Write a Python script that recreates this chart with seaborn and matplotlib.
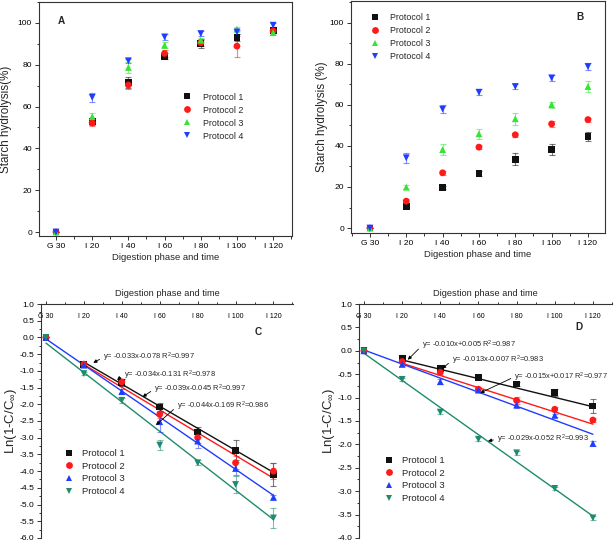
import numpy as np
import pandas as pd
import matplotlib
matplotlib.use("Agg")
import matplotlib.pyplot as plt
import seaborn as sns
from matplotlib.ticker import MultipleLocator, FormatStrFormatter

stages = ["G 30", "I 20", "I 40", "I 60", "I 80", "I 100", "I 120"]
minutes = [0, 20, 40, 60, 80, 100, 120]
protocols = ["Protocol 1", "Protocol 2", "Protocol 3", "Protocol 4"]

# A: starch hydrolysis (%), protocols 1-4
a_mean = [[0, 52.8, 71.4, 84.1, 90.1, 93.0, 96.5],
          [0, 52.3, 70.3, 85.4, 90.5, 88.9, 96.2],
          [0, 55.2, 78.7, 89.3, 91.7, 97.0, 95.4],
          [0, 64.4, 81.9, 93.3, 94.9, 95.7, 98.9]]
a_err = [[0, 1.5, 2.5, 1.5, 2.0, 1.5, 1.0],
         [0, 1.5, 2.0, 1.5, 1.5, 5.0, 1.0],
         [0, 1.5, 2.5, 1.5, 1.0, 1.0, 1.0],
         [0, 2.0, 1.0, 1.5, 1.0, 1.0, 1.0]]

# B: starch hydrolysis (%)
b_mean = [[0, 10.5, 19.9, 26.4, 33.5, 38.2, 44.6],
          [0, 13.1, 26.9, 39.4, 45.4, 50.7, 52.8],
          [0, 19.9, 38.2, 45.9, 53.2, 60.1, 68.9],
          [0, 34.2, 57.9, 66.1, 68.9, 73.1, 78.6]]
b_err = [[0, 0.8, 0.8, 1.2, 2.8, 2.5, 2.2],
         [0, 1.0, 1.0, 1.0, 1.0, 1.5, 1.0],
         [0, 1.0, 2.5, 2.5, 3.0, 1.5, 2.5],
         [0, 2.5, 2.0, 1.5, 1.2, 1.5, 1.5]]

# C: Ln(1-C/Cinf)
c_mean = [[0, -0.80, -1.35, -2.08, -2.83, -3.38, -4.10],
          [0, -0.80, -1.33, -2.30, -3.00, -3.75, -4.00],
          [0, -0.83, -1.62, -2.52, -3.10, -3.92, -4.78],
          [0, -1.08, -1.88, -3.22, -3.75, -4.40, -5.40]]
c_err = [[0, 0.05, 0.10, 0.12, 0.15, 0.30, 0.35],
         [0, 0.05, 0.08, 0.10, 0.15, 0.20, 0.25],
         [0, 0.05, 0.08, 0.30, 0.20, 0.20, 0.08],
         [0, 0.05, 0.08, 0.15, 0.08, 0.25, 0.30]]
c_slope = [-0.033, -0.034, -0.039, -0.044]
c_icpt = [-0.078, -0.131, -0.045, -0.169]
c_r2 = [0.997, 0.978, 0.997, 0.986]
c_start = [1, 1, 0, 0]

# D: Ln(1-C/Cinf)
d_mean = [[0, -0.16, -0.37, -0.57, -0.71, -0.89, -1.18],
          [0, -0.23, -0.46, -0.82, -1.06, -1.25, -1.48],
          [0, -0.29, -0.66, -0.84, -1.16, -1.38, -1.98],
          [0, -0.61, -1.31, -1.89, -2.18, -2.94, -3.57]]
d_err = [[0, 0.06, 0.05, 0.06, 0.04, 0.08, 0.15],
         [0, 0.04, 0.05, 0.05, 0.08, 0.05, 0.04],
         [0, 0.04, 0.06, 0.04, 0.06, 0.04, 0.05],
         [0, 0.03, 0.05, 0.04, 0.04, 0.04, 0.05]]
d_slope = [-0.010, -0.013, -0.015, -0.029]
d_icpt = [0.005, -0.007, 0.017, -0.052]
d_r2 = [0.987, 0.983, 0.977, 0.993]
d_start = [1, 1, 0, 0]

sns.set_style("ticks")
plt.rcParams["font.family"] = ["Liberation Sans", "DejaVu Sans"]
plt.rcParams["mathtext.fontset"] = "custom"
plt.rcParams["mathtext.rm"] = "Liberation Sans"
plt.rcParams["mathtext.it"] = "Liberation Sans:italic"

cols_ab = ["#111111", "#ff1a1a", "#33e633", "#1f3cff"]
cols_cd = ["#111111", "#ff1a1a", "#1f3cff", "#1e8b6e"]
marks = ["s", "o", "^", "v"]


def points(ax, x, means, errs, colors, size=24):
    for m, e, c in zip(means, errs, colors):
        ax.errorbar(x, m, yerr=e, fmt="none", ecolor=c, alpha=0.55,
                    elinewidth=0.8, capsize=2.5, capthick=0.8, zorder=2)
    df = pd.DataFrame({"x": np.tile(x, len(means)),
                       "y": np.concatenate(means),
                       "Protocol": np.repeat(protocols, len(x))})
    sns.scatterplot(data=df, x="x", y="y", hue="Protocol", style="Protocol",
                    palette=colors, markers=dict(zip(protocols, marks)),
                    s=size, linewidth=0, ax=ax, zorder=3)


def style_box(ax):
    for sp in ax.spines.values():
        sp.set_linewidth(0.8)
        sp.set_color("#333333")
    ax.tick_params(which="both", direction="out", width=0.7, colors="#333333",
                   labelcolor="black")
    ax.tick_params(which="major", length=3, labelsize=6.1, pad=2)
    ax.tick_params(which="minor", length=1.8)


fig = plt.figure(figsize=(6.14, 5.42), dpi=100)

# ---- A and B ----
pos = {"A": [0.0635, 0.5646, 0.412, 0.4317], "B": [0.5717, 0.5701, 0.4137, 0.428]}
for key, means, errs, ylab, lim, leg in [
        ("A", a_mean, a_err, "Starch hydrolysis(%)", (-0.47, 6.52, -1.9, 110), (0.569, 0.613)),
        ("B", b_mean, b_err, "Starch hydrolysis (%)", (-0.52, 6.47, -2.4, 110.5), (0.075, 0.95))]:
    ax = fig.add_axes(pos[key])
    points(ax, np.arange(len(stages)), means, errs, cols_ab)
    ax.set_xlim(lim[0], lim[1])
    ax.set_ylim(lim[2], lim[3])
    ax.set_xticks(range(len(stages)), stages)
    ax.xaxis.set_minor_locator(MultipleLocator(0.5))
    ax.yaxis.set_major_locator(MultipleLocator(20))
    ax.yaxis.set_minor_locator(MultipleLocator(10))
    style_box(ax)
    ax.set_xlabel("Digestion phase and time", fontsize=6.8, labelpad=2)
    ax.set_ylabel(ylab, fontsize=8.4, labelpad=4.5 if key == "A" else 1.2)
    sns.move_legend(ax, "upper left", bbox_to_anchor=leg, frameon=False, title=None,
                    fontsize=6.4, handlelength=1, handletextpad=1.25,
                    labelspacing=0.45, borderpad=0, borderaxespad=0)
    tx = (0.09, 0.92) if key == "A" else (0.9, 0.93)
    ax.text(tx[0], tx[1], key, transform=ax.transAxes, fontsize=7.2,
            fontweight="bold", ha="center", va="center")

# ---- C and D ----
pos = {"C": [0.0668, 0.0074, 0.4104, 0.4317], "D": [0.5847, 0.0074, 0.412, 0.4317]}
notes = {
    "C": [((30, -0.6), (25, -0.76)), ((41, -1.12), (37.5, -1.27)),
          ((57, -1.55), (51, -1.78)), ((69, -2.07), (58, -2.62))],
    "D": [((30.3, 0.107), (23, -0.19)), ((46, -0.21), (41, -0.38)),
          ((78.7, -0.56), (61, -0.9)), ((69.6, -1.89), (65, -1.93))],
}
for key, means, errs, slope, icpt, r2, start, lim, leg, lab in [
        ("C", c_mean, c_err, c_slope, c_icpt, c_r2, c_start, (-2.6, 130.3, -6, 1), (0.093, 0.38), (0.86, 0.88)),
        ("D", d_mean, d_err, d_slope, d_icpt, d_r2, d_start, (-2.6, 130, -4, 1), (0.10, 0.35), (0.87, 0.90))]:
    ax = fig.add_axes(pos[key])
    x = np.array(minutes, dtype=float)
    for k in range(4):
        xs = x[start[k]:]
        ax.plot(xs, slope[k] * xs + icpt[k], color=cols_cd[k], lw=1.0, zorder=1)
    points(ax, x, means, errs, cols_cd)
    for k, (txy, axy) in enumerate(notes[key]):
        s = f"y= {slope[k]:.3f}x{icpt[k]:+.3f} R$^2$={r2[k]:.3f}"
        ax.annotate(s, xy=axy, xytext=txy, fontsize=5.4, ha="left", va="center",
                    arrowprops=dict(arrowstyle="-|>", lw=0.6, color="black",
                                    mutation_scale=5, shrinkA=0, shrinkB=0,
                                    relpos=(0, 0.5)))
    ax.set_xlim(lim[0], lim[1])
    ax.set_ylim(lim[2], lim[3])
    ax.spines["right"].set_visible(False)
    ax.spines["bottom"].set_visible(False)
    style_box(ax)
    ax.xaxis.tick_top()
    ax.xaxis.set_label_position("top")
    ax.set_xticks(minutes, stages)
    ax.xaxis.set_minor_locator(MultipleLocator(10))
    ax.tick_params(axis="x", which="major", length=2.5, labelsize=5.0, pad=-14)
    ax.tick_params(axis="x", which="minor", length=1.5)
    ax.yaxis.set_major_locator(MultipleLocator(0.5))
    ax.yaxis.set_minor_locator(MultipleLocator(0.25))
    ax.yaxis.set_major_formatter(FormatStrFormatter("%.1f"))
    ax.set_xlabel("Digestion phase and time", fontsize=6.7, labelpad=1.2)
    ax.set_ylabel("Ln(1-C/C$_{\\infty}$)", fontsize=9.5, labelpad=0)
    sns.move_legend(ax, "upper left", bbox_to_anchor=leg, frameon=False, title=None,
                    fontsize=6.8, handlelength=1, handletextpad=0.9,
                    labelspacing=0.38, borderpad=0, borderaxespad=0)
    ax.text(lab[0], lab[1], key, transform=ax.transAxes, fontsize=7.2,
            fontweight="bold", ha="center", va="center")

fig.savefig("out.png", dpi=100)
